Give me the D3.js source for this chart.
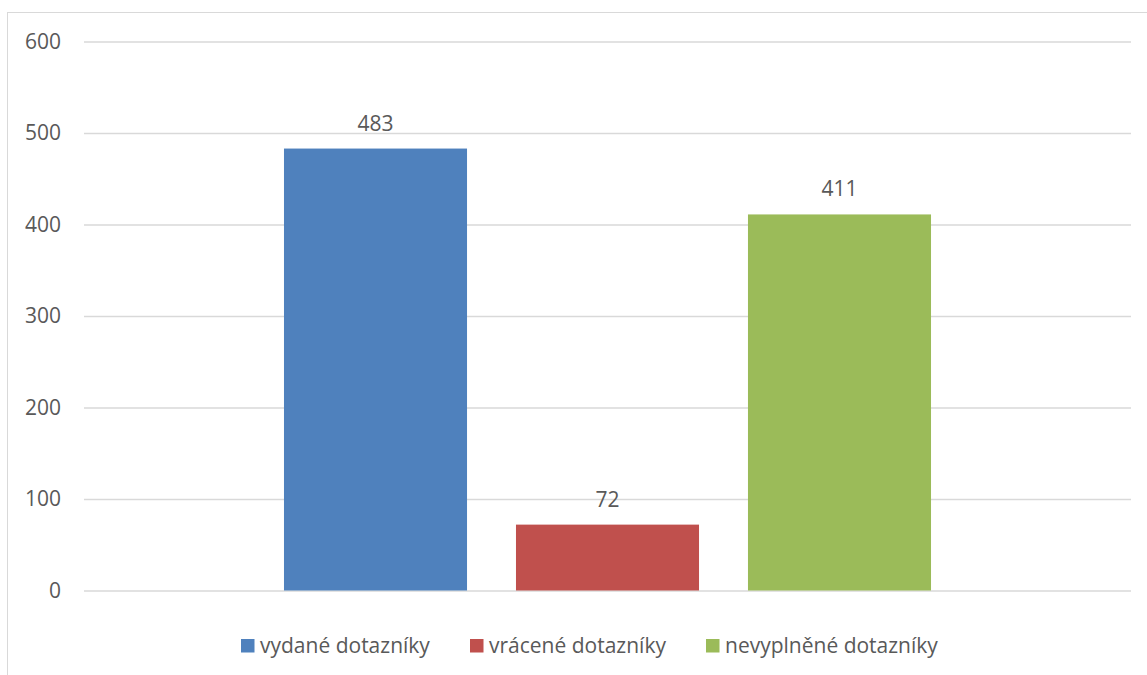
<!DOCTYPE html>
<html>
<head>
<meta charset="utf-8">
<script src="https://cdn.jsdelivr.net/npm/d3@7"></script>
<style>
  html, body { margin: 0; padding: 0; background: #fff; }
  svg { display: block; }
  text { font-family: "Open Sans", "Liberation Sans", sans-serif; fill: #595959; }
</style>
</head>
<body>
<svg id="chart" width="1147" height="675"></svg>
<script>
// Questionnaire counts
const series = ["vydané dotazníky", "vrácené dotazníky", "nevyplněné dotazníky"];
const values = [483, 72, 411];
const colors = ["#4F81BD", "#C0504D", "#9BBB59"];
const yTicks = [0, 100, 200, 300, 400, 500, 600];

const W = 1147, H = 675;
const plot = { left: 84, right: 1131, top: 41.5, bottom: 590.5 };
const fontSize = "21px";

const svg = d3.select("#chart");

// chart frame
svg.append("rect")
  .attr("x", 7.5).attr("y", 12.5)
  .attr("width", W + 20).attr("height", H + 20)
  .attr("fill", "none").attr("stroke", "#d9d9d9").attr("stroke-width", 1);

const y = d3.scaleLinear().domain([0, 600]).range([plot.bottom, plot.top]);
const x = d3.scaleBand()
  .domain(series)
  .range([plot.left, plot.right])
  .paddingInner(0.211)
  .paddingOuter(0.862);

// gridlines + tick labels
const yAxis = d3.axisLeft(y)
  .tickValues(yTicks)
  .tickSize(-(plot.right - plot.left))
  .tickPadding(23)
  .tickFormat(d3.format("d"));

const gAxis = svg.append("g")
  .attr("transform", `translate(${plot.left},0)`)
  .call(yAxis);
gAxis.select(".domain").remove();
gAxis.selectAll(".tick line").attr("stroke", "#d9d9d9").attr("stroke-width", 1.5);
gAxis.selectAll(".tick text")
  .attr("fill", "#595959")
  .style("font-size", fontSize)
  .style("font-family", "\"Open Sans\", sans-serif");

// bars
svg.append("g").selectAll("rect")
  .data(series)
  .join("rect")
  .attr("x", d => x(d))
  .attr("width", x.bandwidth())
  .attr("y", (d, i) => y(values[i]))
  .attr("height", (d, i) => y(0) - y(values[i]))
  .attr("fill", (d, i) => colors[i]);

// value labels
svg.append("g").selectAll("text")
  .data(series)
  .join("text")
  .attr("x", d => x(d) + x.bandwidth() / 2)
  .attr("y", (d, i) => y(values[i]) - 18)
  .attr("text-anchor", "middle")
  .style("font-size", fontSize)
  .text((d, i) => values[i]);

// legend
const legendX = [241, 470, 706];
const lg = svg.append("g").selectAll("g")
  .data(series)
  .join("g")
  .attr("transform", (d, i) => `translate(${legendX[i]},639)`);
lg.append("rect")
  .attr("width", 13.5).attr("height", 13.5)
  .attr("fill", (d, i) => colors[i]);
lg.append("text")
  .attr("x", 19).attr("y", 7)
  .attr("dy", "0.35em")
  .style("font-size", fontSize)
  .text(d => d);
</script>
</body>
</html>
